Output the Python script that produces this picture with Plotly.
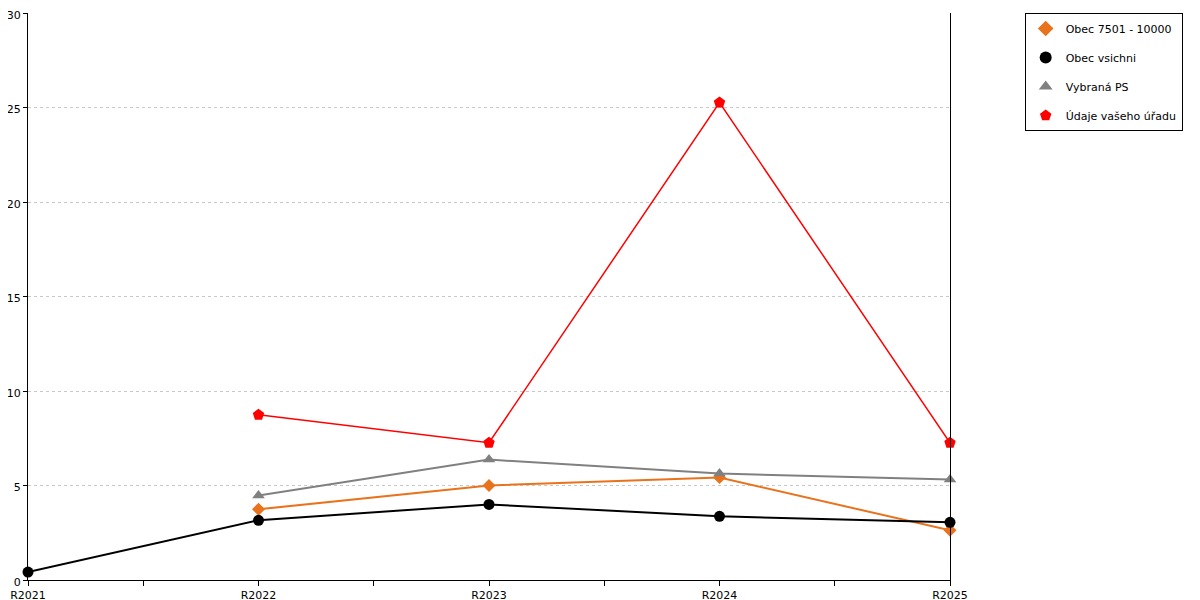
import plotly.graph_objects as go

categories = ['R2021', 'R2022', 'R2023', 'R2024', 'R2025']

obec_7501 = [None, 3.74, 5.0, 5.42, 2.63]
obec_vsichni = [0.42, 3.16, 4.0, 3.37, 3.05]
vybrana_ps = [None, 4.47, 6.37, 5.63, 5.32]
udaje_uradu = [None, 8.74, 7.26, 25.26, 7.26]

series = [
    ('Obec 7501 - 10000', obec_7501, '#e8731c', 'diamond', 10, 2),
    ('Obec vsichni', obec_vsichni, '#000000', 'circle', 11, 2),
    ('Vybraná PS', vybrana_ps, '#808080', 'triangle-up', 11, 2),
    ('Údaje vašeho úřadu', udaje_uradu, '#ff0000', 'pentagon', 12, 1.5),
]

x = list(range(len(categories)))

fig = go.Figure()
for name, vals, color, symbol, size, width in series:
    fig.add_trace(go.Scatter(x=x, y=vals, mode='lines+markers', name=name,
                             line=dict(color=color, width=width),
                             marker=dict(color=color, symbol=symbol, size=size),
                             showlegend=False, cliponaxis=False))
# legend entries showing only the symbol
for name, vals, color, symbol, size, width in series:
    fig.add_trace(go.Scatter(x=[None], y=[None], mode='markers', name=name,
                             legendgroup=name,
                             marker=dict(color=color, symbol=symbol, size=size - 2)))

# the page body adds an 8px offset, margins compensate for it
fig.update_layout(
    width=1200, height=600,
    margin=dict(l=20, r=258, t=5, b=28, autoexpand=False),
    plot_bgcolor='white', paper_bgcolor='white',
    font=dict(family='DejaVu Sans', size=11, color='#000000'),
    legend=dict(x=1.081, y=1.0, xanchor='left', yanchor='top',
                bordercolor='#000000', borderwidth=1,
                font=dict(size=11), tracegroupgap=10, itemsizing='constant'),
)
fig.update_xaxes(range=[0, 4], tickmode='array', tickvals=x, ticktext=categories,
                 showgrid=False, showline=True, linecolor='black', linewidth=1,
                 ticks='outside', ticklen=5, tickcolor='black', zeroline=False,
                 automargin=False, ticklabeloverflow='allow',
                 minor=dict(tickvals=[0.5, 1.5, 2.5, 3.5], ticks='outside', ticklen=5, tickcolor='black'),
                 tickfont=dict(size=11))
fig.update_yaxes(range=[0, 30], dtick=5, showgrid=True, gridcolor='#c8c8c8', griddash='dot',
                 showline=True, linecolor='black', linewidth=1, mirror=True,
                 ticks='outside', ticklen=4, tickcolor='black', zeroline=False,
                 automargin=False, ticklabeloverflow='allow', ticklabelshift=2,
                 tickfont=dict(size=11))

fig.write_html("out.html")
